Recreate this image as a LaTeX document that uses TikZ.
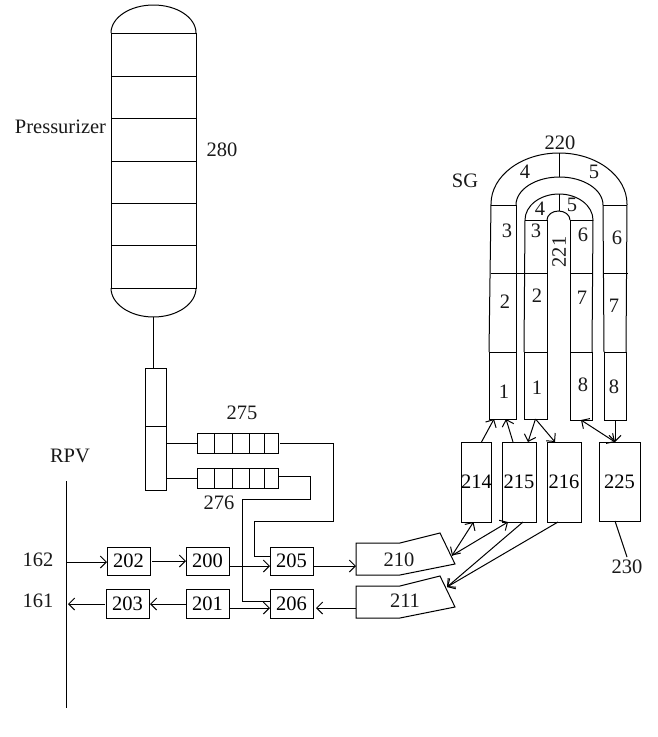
\documentclass[tikz,border=0pt]{standalone}
\usepackage{fontspec}
\setmainfont{Liberation Serif}
\usetikzlibrary{arrows.meta,calc}
\tikzset{
  ln/.style={line width=1pt,draw=black,line join=miter},
  box/.style={ln,rectangle,inner sep=0pt,outer sep=0pt,font=\lab},
  cell/.style={box},
  txt/.style={inner sep=0pt,font=\lab,text=black!90},
  arr/.style={ln,-{Straight Barb[length=6pt,width=12pt,line width=1pt]}},
  barr/.style={ln,{Straight Barb[length=6pt,width=12pt,line width=1pt]}-{Straight Barb[length=6pt,width=12pt,line width=1pt]}}
}
\newcommand{\lab}{\fontsize{20.5}{24}\selectfont}
\begin{document}
\begin{tikzpicture}[x=1pt,y=-1pt]
\useasboundingbox (0,0) rectangle (657,737);
% Pressurizer
\node[box,minimum width=85pt,minimum height=255pt] (pz) at (153.5,160.5) {};
\draw[ln] (pz.north west) arc[start angle=180,end angle=360,x radius=42.5,y radius=28];
\draw[ln] (pz.south west) arc[start angle=180,end angle=0,x radius=42.5,y radius=29];
\coordinate (pzb) at (153,317);
\foreach \y in {76,118,161,203,245} \draw[ln] (pz.west |- 0,\y) -- (pz.east |- 0,\y);
\node[txt] at (60.5,127) {Pressurizer};
\node[txt] at (222,150) {280};
% surge header
\node[box,minimum width=21pt,minimum height=122pt] (hdr) at (155.5,429) {};
\draw[ln] (hdr.west |- 0,426) -- (hdr.east |- 0,426);
\draw[ln] (pzb) -- (pzb |- hdr.north);
% filters
\node[box,minimum width=81pt,minimum height=20pt] (f275) at (237.5,443) {};
\node[box,minimum width=81pt,minimum height=20pt] (f276) at (237.5,478) {};
\foreach \x in {214,232,249,264} {
  \draw[ln] (\x,433) -- (\x,453);
  \draw[ln] (\x,468) -- (\x,488);
}
\node[txt] at (242,413) {275};
\node[txt] at (219,503) {276};
\draw[ln] (hdr.east |- f275.west) -- (f275.west);
\draw[ln] (hdr.east |- f276.west) -- (f276.west);
% boxes row
\node[box,minimum width=43pt,minimum height=28pt] (b202) at (128.5,561) {202};
\node[box,minimum width=43pt,minimum height=28pt] (b200) at (207.5,561) {200};
\node[box,minimum width=43pt,minimum height=28pt] (b205) at (291.5,561) {205};
\node[box,minimum width=43pt,minimum height=29pt] (b203) at (127.5,603.5) {203};
\node[box,minimum width=43pt,minimum height=29pt] (b201) at (207.5,603.5) {201};
\node[box,minimum width=43pt,minimum height=29pt] (b206) at (291.5,603.5) {206};
% piping 275, 276
\draw[ln] ([xshift=2pt]f275.east) -- (333,443) -- (333,521) -- (254,521) -- (254,556) -- (b205.west |- 0,556);
\draw[ln] (279,476.5) -- (310.5,476.5) -- (310.5,499.5) -- (242.5,499.5) -- (242.5,601) -- (b206.west |- 0,601);
% RPV
\coordinate (rpvt) at (66,481);
\coordinate (rpvb) at (66,708);
\draw[ln] (rpvt) -- (rpvb);
\node[txt] at (70,456) {RPV};
\node[txt] at (38,560) {162};
\node[txt] at (38,601) {161};
\coordinate (r162) at (66,562);
\coordinate (r161) at (68,604);
% 210 211
\coordinate (t210) at (452,555.5);
\coordinate (t211) at (447,587);
\draw[ln] (356,543) -- (400,543) -- (440,533) -- (455,564) -- (400,575) -- (356,575) -- cycle;
\draw[ln] (356,586) -- (400,586) -- (440,576) -- (455,607) -- (400,618) -- (356,618) -- cycle;
\coordinate (w210) at (356,566);
\coordinate (w211) at (356,608);
\node[txt] at (399,560) {210};
\node[txt] at (405,601) {211};
% row connectors
\draw[arr] (r162) -- (b202.west |- r162);
\draw[arr] ([xshift=2pt]b202.east) -- (b200.west);
\draw[arr] ([yshift=-5pt]b200.east) -- ([yshift=-5pt]b205.west);
\draw[arr] ([xshift=1pt,yshift=-5pt]b205.east) -- (w210);
\draw[arr] (w211) -- ([xshift=3pt,yshift=-4.5pt]b206.east);
\draw[arr] ([yshift=-4.5pt]b201.east) -- ([yshift=-4.5pt]b206.west);
\draw[arr] ([yshift=-0.5pt]b201.west) -- ([xshift=1pt,yshift=-0.5pt]b203.east);
\draw[arr] ([yshift=-0.5pt,xshift=-1pt]b203.west) -- (r161);
% SG boxes
\node[box,minimum width=30pt,minimum height=80pt] (b214) at (476.5,482) {214};
\node[box,minimum width=34pt,minimum height=80pt] (b215) at (519,482) {215};
\node[box,minimum width=34pt,minimum height=80pt] (b216) at (564,482) {216};
\node[box,minimum width=41pt,minimum height=79pt] (b225) at (619.5,481.5) {225};
\node[txt] at (627,567) {230};
\coordinate (l230) at (627,557);
\draw[ln] ([xshift=-4.5pt]b225.south) -- (l230);
% tube bottom cells
\node[box,minimum width=27pt,minimum height=67pt] (c1a) at (502.5,385.5) {};
\node[box,minimum width=23pt,minimum height=67pt] (c1b) at (535.5,385.5) {};
\node[box,minimum width=22pt,minimum height=68pt] (c8a) at (581,386) {};
\node[box,minimum width=22pt,minimum height=68pt] (c8b) at (615,386) {};
% U tubes
\draw[ln] (491,204) arc[start angle=180,end angle=360,x radius=68,y radius=51];
\draw[ln] (516,205) arc[start angle=180,end angle=360,x radius=43.5,y radius=28];
\draw[ln] (525,220) arc[start angle=180,end angle=360,x radius=34,y radius=26];
\draw[ln] (547,220) arc[start angle=180,end angle=360,x radius=11.5,y radius=9];
\draw[ln] (491,204) -- (c1a.north west);
\draw[ln] (516,205) -- (c1a.north east);
\draw[ln] (525,220) -- (c1b.north west);
\draw[ln] (547,220) -- (c1b.north east);
\draw[ln] (570,220) -- (c8a.north west);
\draw[ln] (593,220) -- (c8a.north east);
\draw[ln] (603,205) -- (c8b.north west);
\draw[ln] (627,204) -- (c8b.north east);
\draw[ln] (491,205) -- (516,205) (603,205) -- (627,205);
\draw[ln] (525,220) -- (547,220) (570,220) -- (593,220);
\draw[ln] (490.5,273) -- (547,273) (570,273) -- (593,273) (603,273) -- (628,273);
\draw[ln] (559,153) -- (559,177) (559,194) -- (559,211);
\node[txt] at (465,181) {SG};
\node[txt] at (560,143) {220};
\node[txt] at (525,172) {4};
\node[txt] at (594,172) {5};
\node[txt] at (540,209) {4};
\node[txt] at (572,205) {5};
\node[txt] at (507,231) {3};
\node[txt] at (536,231) {3};
\node[txt] at (583,235) {6};
\node[txt] at (617,238) {6};
\node[txt,rotate=90] at (559,252) {221};
\node[txt] at (505,302) {2};
\node[txt] at (537,296) {2};
\node[txt] at (582,298) {7};
\node[txt] at (614,306) {7};
\node[txt] at (504,392) {1};
\node[txt] at (537,388) {1};
\node[txt] at (583,385) {8};
\node[txt] at (614,387) {8};
% SG connectors
\draw[arr] ([xshift=5pt]b214.north) -- ([xshift=-8.5pt]c1a.south);
\draw[arr] ([xshift=-6pt]b215.north) -- ([xshift=3.5pt]c1a.south);
\draw[arr] (c1b.south) -- ([xshift=9pt]b215.north);
\draw[arr] (c1b.south) -- ([xshift=-9pt]b216.north);
\draw[barr] (b225.north -| 615,0) -- (c8a.south);
\draw[arr] (c8b.south) -- (c8b.south |- b225.north);
\draw[barr] (t210) -- ([xshift=-3pt]b214.south);
\draw[arr] (t210) -- ([xshift=-11pt]b215.south);
\draw[arr] ([xshift=4pt]b215.south) -- (t211);
\draw[arr] ([xshift=-6pt]b216.south) -- (t211);
\end{tikzpicture}
\end{document}
